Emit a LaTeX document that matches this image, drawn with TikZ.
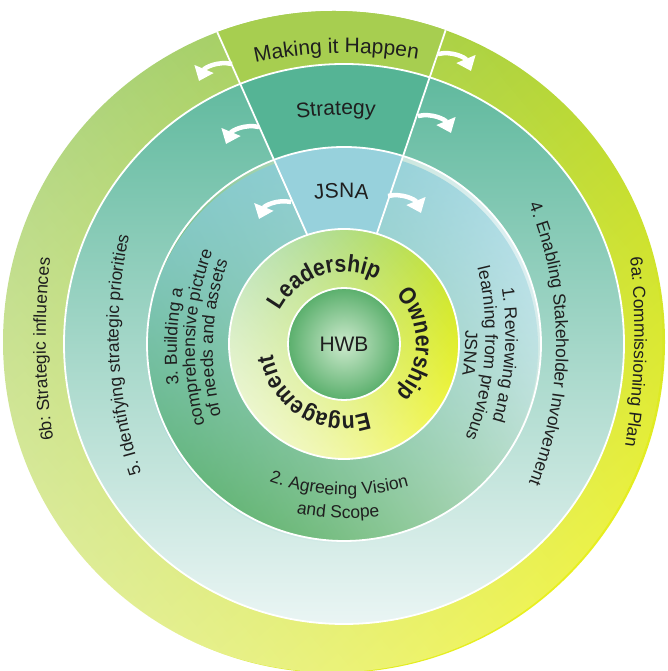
\documentclass[tikz,border=0pt]{standalone}
\usepackage{fontspec}
\setmainfont{Liberation Sans}
\newfontfamily\keyfam[FakeStretch=0.88]{Liberation Sans}
\usetikzlibrary{arrows.meta,decorations.text,fadings}

\definecolor{outerG}{HTML}{94C64C}
\definecolor{outerY}{HTML}{E8EF1E}
\definecolor{mihC}{HTML}{A7CE50}
\definecolor{stT}{HTML}{5DB89C}
\definecolor{stM}{HTML}{8DCFC3}
\definecolor{stB}{HTML}{EAF5F4}
\definecolor{stC}{HTML}{55B495}
\definecolor{jsG}{HTML}{5CB060}
\definecolor{jsP}{HTML}{DCEFF1}
\definecolor{jsB}{HTML}{86CBD9}
\definecolor{jsC}{HTML}{97D1DC}
\definecolor{ldG}{HTML}{9FD68C}
\definecolor{ldY}{HTML}{E8F000}
\definecolor{hwbI}{HTML}{CDEACD}
\definecolor{hwbO}{HTML}{5AAF6C}
\definecolor{txt}{HTML}{1F1F1F}

\tikzfading[name=paleedge, top color=transparent!100, middle color=transparent!100, bottom color=transparent!20]
\tikzfading[name=topedge, top color=transparent!0, middle color=transparent!100, bottom color=transparent!100]

\newcommand\labfont{\fontsize{17.5}{19}\selectfont}
\newcommand\secfont{\fontsize{21}{24}\selectfont}
\newcommand\keyfont{\keyfam\fontsize{24}{26}\selectfont\bfseries}
\newcommand\cwtext[5]{\path[shift={({#2}:{#3-#4})},decorate,decoration={text along path,text align=center,text color=txt,text={|#1|#5}}] ({#2+75}:#4) arc[start angle={#2+75},end angle={#2-75},radius=#4];}
\newcommand\ccwtext[5]{\path[shift={({#2}:{#3-#4})},decorate,decoration={text along path,text align=center,text color=txt,text={|#1|#5}}] ({#2-75}:#4) arc[start angle={#2-75},end angle={#2+75},radius=#4];}

\begin{document}
\begin{tikzpicture}[x=1pt, y=1pt,
  ringline/.style={white, line width=1.8pt},
  arr/.style={white, line width=4.5pt, -{Triangle[width=20pt,length=13pt]}}]
\useasboundingbox (0,0) rectangle (667,671);
\begin{scope}[shift={(344,327)}]
\coordinate (c) at (0,0);
\coordinate (oc) at (-10,2);
\coordinate (o) at (2.5,20.7);
\coordinate (l) at (-157,380);
\coordinate (r) at (124,380);

\shade[top color=outerG, bottom color=outerY, shading angle=40] (oc) circle[radius=331];
\fill[white, opacity=.6, path fading=paleedge, fading angle=-50] (oc) circle[radius=331];
\begin{scope}
\clip (oc) circle[radius=331];
\fill[mihC] (o) -- (l) -- (r) -- cycle;
\end{scope}

\shade[top color=stT, middle color=stM, bottom color=stB] (c) circle[radius=280];
\begin{scope}
\clip (c) circle[radius=280];
\fill[stC] (o) -- (l) -- (r) -- cycle;
\end{scope}

\shade[left color=jsG, right color=jsP, shading angle=120] (c) circle[radius=197];
\fill[jsB, opacity=.8, path fading=topedge, fading angle=20] (c) circle[radius=197];
\begin{scope}
\clip (c) circle[radius=197];
\fill[jsC] (o) -- (l) -- (r) -- cycle;
\end{scope}

\begin{scope}
\clip (oc) circle[radius=331];
\draw[ringline] (l) -- (o) -- (r);
\end{scope}

\shade[top color=ldG, bottom color=ldY, shading angle=45] (c) circle[radius=115];
\fill[white, opacity=.9, path fading=paleedge, fading angle=-45] (c) circle[radius=115];
\shade[inner color=hwbI, outer color=hwbO] (c) circle[radius=56];
\foreach \rr in {56,115,197,280}
  \draw[ringline] (c) circle[radius=\rr];

\draw[arr] (-112,280) to[bend right=40] (-145,263);
\draw[arr] (94,290) to[bend left=40] (127,273);
\draw[arr] (-85,217) to[bend right=40] (-118,200);
\draw[arr] (74,228) to[bend left=40] (107,211);
\draw[arr] (-53,142) to[bend right=40] (-85,125);
\draw[arr] (44,148) to[bend left=40] (77,131);

\node[font=\secfont, text=txt] (hwb) at (c) {HWB};

\cwtext{\secfont}{91.5}{291}{420}{Making it Happen}
\cwtext{\secfont}{92}{229}{320}{Strategy}
\cwtext{\secfont}{91}{146}{220}{JSNA}
\cwtext{\keyfont}{107.5}{72}{72}{Leadership}
\cwtext{\keyfont}{0}{72}{72}{Ownership}
\cwtext{\keyfont}{-121}{72}{72}{Engagement}
\cwtext{\labfont}{-1.5}{290}{700}{6a: Commissioning Plan}
\cwtext{\labfont}{181}{298}{700}{6b: Strategic influences}
\cwtext{\labfont}{0}{212}{370}{4. Enabling Stakeholder Involvement}
\cwtext{\labfont}{183}{225}{450}{5. Identifying strategic priorities}
\cwtext{\labfont}{-4}{161}{300}{1. Reviewing and}
\cwtext{\labfont}{-4}{141}{280}{learning from previous}
\cwtext{\labfont}{-4}{121}{260}{JSNA}
\cwtext{\labfont}{177.5}{167}{300}{3. Building a}
\cwtext{\labfont}{177.5}{149}{282}{comprehensive picture}
\cwtext{\labfont}{177.5}{131}{264}{of needs and assets}
\ccwtext{\labfont}{-92}{151}{230}{2. Agreeing Vision}
\ccwtext{\labfont}{-92}{174}{253}{and Scope}
\end{scope}
\end{tikzpicture}
\end{document}
